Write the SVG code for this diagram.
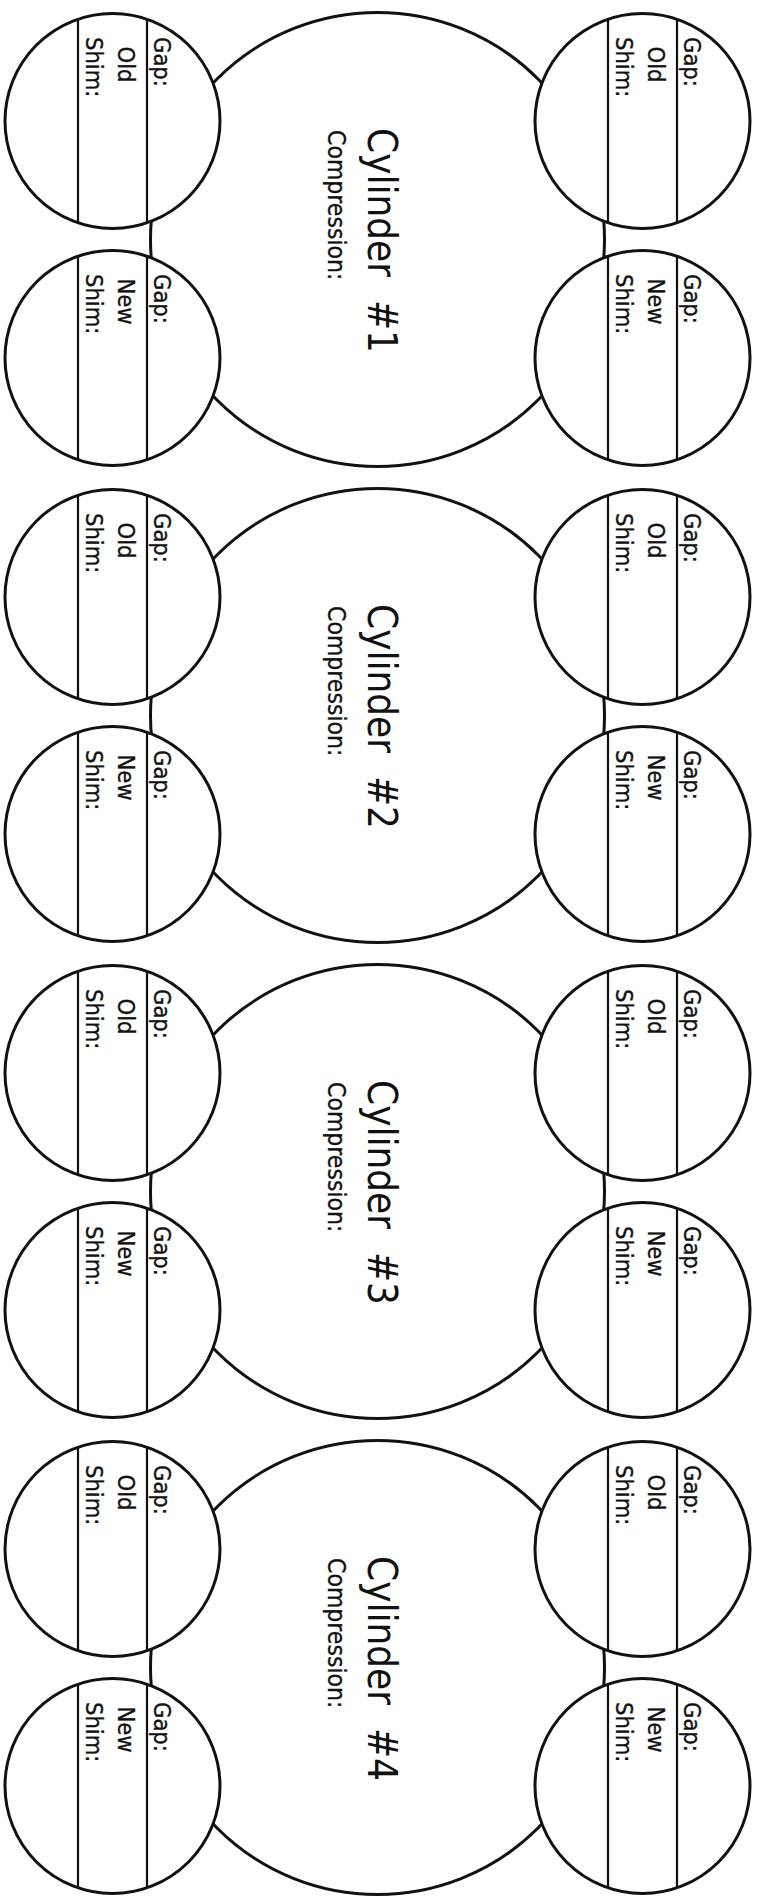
<svg xmlns="http://www.w3.org/2000/svg" width="758" height="1902" viewBox="0 0 758 1902">
<style>
.bg{fill:#fff}
.big{fill:#fff;stroke:#111;stroke-width:3}
.gc{fill:#fff;stroke:#111;stroke-width:3}
.ln{stroke:#111;stroke-width:2.2}
text{font-family:'DejaVu Sans Condensed','DejaVu Sans',sans-serif;font-stretch:condensed;fill:#111}
.lb{font-size:23.5px;stroke:#111;stroke-width:0.35}
.mid{text-anchor:middle}
.ti{font-size:40px}
.cp{font-size:24.5px;stroke:#111;stroke-width:0.3}
</style>
<rect class="bg" x="0" y="0" width="758" height="1902"/>
<defs>
<g id="gauge-lines">
<line class="ln" x1="-34.5" y1="-101.8" x2="-34.5" y2="101.8"/>
<line class="ln" x1="34.5" y1="-101.8" x2="34.5" y2="101.8"/>
</g>
</defs>

<g id="cylinder-1">
<circle id="c1-chamber" class="big" cx="377.5" cy="239.5" r="227"/>
<text class="ti" transform="translate(368,128) rotate(90)" xml:space="preserve">Cylinder  #1</text>
<text class="cp" transform="translate(328,130) rotate(90)">Compression:</text>
<g id="c1-left-old"><circle class="gc" cx="112.5" cy="121" r="107.5"/><use href="#gauge-lines" x="112.5" y="121"/>
<text class="lb" transform="translate(154,37) rotate(90)">Gap:</text><text class="lb mid" transform="translate(118,64.5) rotate(90)">Old</text><text class="lb" transform="translate(86,37) rotate(90)">Shim:</text></g>
<g id="c1-left-new"><circle class="gc" cx="112.5" cy="358" r="107.5"/><use href="#gauge-lines" x="112.5" y="358"/>
<text class="lb" transform="translate(154,274) rotate(90)">Gap:</text><text class="lb mid" transform="translate(118,301.5) rotate(90)">New</text><text class="lb" transform="translate(86,274) rotate(90)">Shim:</text></g>
<g id="c1-right-old"><circle class="gc" cx="642.5" cy="121" r="107.5"/><use href="#gauge-lines" x="642.5" y="121"/>
<text class="lb" transform="translate(684,37) rotate(90)">Gap:</text><text class="lb mid" transform="translate(648,64.5) rotate(90)">Old</text><text class="lb" transform="translate(616,37) rotate(90)">Shim:</text></g>
<g id="c1-right-new"><circle class="gc" cx="642.5" cy="358" r="107.5"/><use href="#gauge-lines" x="642.5" y="358"/>
<text class="lb" transform="translate(684,274) rotate(90)">Gap:</text><text class="lb mid" transform="translate(648,301.5) rotate(90)">New</text><text class="lb" transform="translate(616,274) rotate(90)">Shim:</text></g>
</g>

<g id="cylinder-2" transform="translate(0,476)">
<circle id="c2-chamber" class="big" cx="377.5" cy="239.5" r="227"/>
<text class="ti" transform="translate(368,128) rotate(90)" xml:space="preserve">Cylinder  #2</text>
<text class="cp" transform="translate(328,130) rotate(90)">Compression:</text>
<g id="c2-left-old"><circle class="gc" cx="112.5" cy="121" r="107.5"/><use href="#gauge-lines" x="112.5" y="121"/>
<text class="lb" transform="translate(154,37) rotate(90)">Gap:</text><text class="lb mid" transform="translate(118,64.5) rotate(90)">Old</text><text class="lb" transform="translate(86,37) rotate(90)">Shim:</text></g>
<g id="c2-left-new"><circle class="gc" cx="112.5" cy="358" r="107.5"/><use href="#gauge-lines" x="112.5" y="358"/>
<text class="lb" transform="translate(154,274) rotate(90)">Gap:</text><text class="lb mid" transform="translate(118,301.5) rotate(90)">New</text><text class="lb" transform="translate(86,274) rotate(90)">Shim:</text></g>
<g id="c2-right-old"><circle class="gc" cx="642.5" cy="121" r="107.5"/><use href="#gauge-lines" x="642.5" y="121"/>
<text class="lb" transform="translate(684,37) rotate(90)">Gap:</text><text class="lb mid" transform="translate(648,64.5) rotate(90)">Old</text><text class="lb" transform="translate(616,37) rotate(90)">Shim:</text></g>
<g id="c2-right-new"><circle class="gc" cx="642.5" cy="358" r="107.5"/><use href="#gauge-lines" x="642.5" y="358"/>
<text class="lb" transform="translate(684,274) rotate(90)">Gap:</text><text class="lb mid" transform="translate(648,301.5) rotate(90)">New</text><text class="lb" transform="translate(616,274) rotate(90)">Shim:</text></g>
</g>

<g id="cylinder-3" transform="translate(0,952)">
<circle id="c3-chamber" class="big" cx="377.5" cy="239.5" r="227"/>
<text class="ti" transform="translate(368,128) rotate(90)" xml:space="preserve">Cylinder  #3</text>
<text class="cp" transform="translate(328,130) rotate(90)">Compression:</text>
<g id="c3-left-old"><circle class="gc" cx="112.5" cy="121" r="107.5"/><use href="#gauge-lines" x="112.5" y="121"/>
<text class="lb" transform="translate(154,37) rotate(90)">Gap:</text><text class="lb mid" transform="translate(118,64.5) rotate(90)">Old</text><text class="lb" transform="translate(86,37) rotate(90)">Shim:</text></g>
<g id="c3-left-new"><circle class="gc" cx="112.5" cy="358" r="107.5"/><use href="#gauge-lines" x="112.5" y="358"/>
<text class="lb" transform="translate(154,274) rotate(90)">Gap:</text><text class="lb mid" transform="translate(118,301.5) rotate(90)">New</text><text class="lb" transform="translate(86,274) rotate(90)">Shim:</text></g>
<g id="c3-right-old"><circle class="gc" cx="642.5" cy="121" r="107.5"/><use href="#gauge-lines" x="642.5" y="121"/>
<text class="lb" transform="translate(684,37) rotate(90)">Gap:</text><text class="lb mid" transform="translate(648,64.5) rotate(90)">Old</text><text class="lb" transform="translate(616,37) rotate(90)">Shim:</text></g>
<g id="c3-right-new"><circle class="gc" cx="642.5" cy="358" r="107.5"/><use href="#gauge-lines" x="642.5" y="358"/>
<text class="lb" transform="translate(684,274) rotate(90)">Gap:</text><text class="lb mid" transform="translate(648,301.5) rotate(90)">New</text><text class="lb" transform="translate(616,274) rotate(90)">Shim:</text></g>
</g>

<g id="cylinder-4" transform="translate(0,1428)">
<circle id="c4-chamber" class="big" cx="377.5" cy="239.5" r="227"/>
<text class="ti" transform="translate(368,128) rotate(90)" xml:space="preserve">Cylinder  #4</text>
<text class="cp" transform="translate(328,130) rotate(90)">Compression:</text>
<g id="c4-left-old"><circle class="gc" cx="112.5" cy="121" r="107.5"/><use href="#gauge-lines" x="112.5" y="121"/>
<text class="lb" transform="translate(154,37) rotate(90)">Gap:</text><text class="lb mid" transform="translate(118,64.5) rotate(90)">Old</text><text class="lb" transform="translate(86,37) rotate(90)">Shim:</text></g>
<g id="c4-left-new"><circle class="gc" cx="112.5" cy="358" r="107.5"/><use href="#gauge-lines" x="112.5" y="358"/>
<text class="lb" transform="translate(154,274) rotate(90)">Gap:</text><text class="lb mid" transform="translate(118,301.5) rotate(90)">New</text><text class="lb" transform="translate(86,274) rotate(90)">Shim:</text></g>
<g id="c4-right-old"><circle class="gc" cx="642.5" cy="121" r="107.5"/><use href="#gauge-lines" x="642.5" y="121"/>
<text class="lb" transform="translate(684,37) rotate(90)">Gap:</text><text class="lb mid" transform="translate(648,64.5) rotate(90)">Old</text><text class="lb" transform="translate(616,37) rotate(90)">Shim:</text></g>
<g id="c4-right-new"><circle class="gc" cx="642.5" cy="358" r="107.5"/><use href="#gauge-lines" x="642.5" y="358"/>
<text class="lb" transform="translate(684,274) rotate(90)">Gap:</text><text class="lb mid" transform="translate(648,301.5) rotate(90)">New</text><text class="lb" transform="translate(616,274) rotate(90)">Shim:</text></g>
</g>
</svg>
